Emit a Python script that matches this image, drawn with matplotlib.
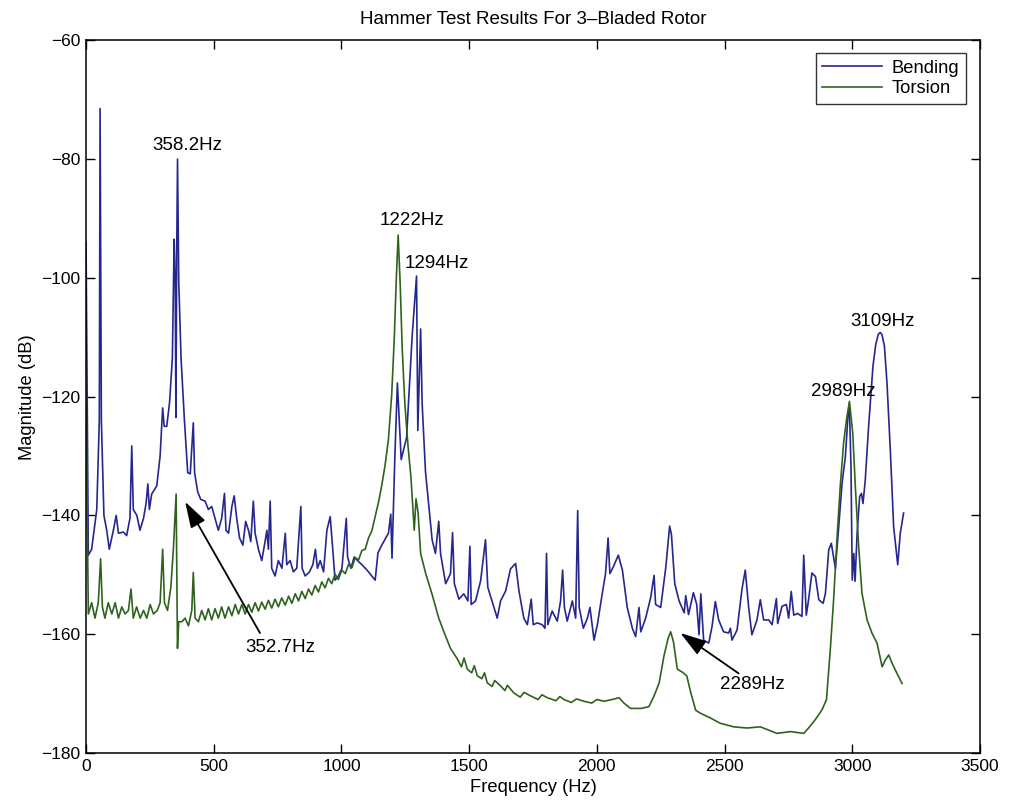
import matplotlib
matplotlib.use("Agg")
import matplotlib.pyplot as plt

plt.rcParams["font.family"] = ["Liberation Sans", "DejaVu Sans"]

# Bending spectrum (frequency in Hz, magnitude in dB)
bend_hz = [0, 9, 22, 42, 52, 55, 60, 70, 81, 91, 107, 118, 127, 146, 159, 172, 179, 185, 199, 211,
           225, 235, 242, 248, 257, 266, 277, 290, 300, 306, 316, 327, 338, 345, 349, 352, 355, 358.2,
           363, 372, 385, 398, 408, 420, 425, 437, 449, 466, 479, 492, 505, 518, 531, 542, 548, 558,
           571, 580, 590, 601, 614, 625, 636, 645, 655, 662, 675, 688, 701, 708, 714, 721, 727, 740,
           753, 767, 780, 786, 799, 812, 825, 841, 846, 858, 875, 888, 898, 906, 917, 930, 943, 956,
           966, 975, 988, 1002, 1019, 1024, 1037, 1050, 1063, 1080, 1100, 1119, 1132, 1143, 1158,
           1171, 1184, 1193, 1198, 1209, 1219, 1234, 1255, 1277, 1294, 1299, 1310, 1316, 1329, 1342,
           1355, 1368, 1381, 1388, 1408, 1427, 1435, 1442, 1460, 1479, 1495, 1503, 1508, 1525, 1545,
           1564, 1573, 1597, 1610, 1623, 1643, 1662, 1682, 1695, 1714, 1728, 1743, 1751, 1767, 1786,
           1797, 1803, 1808, 1825, 1845, 1858, 1866, 1873, 1884, 1904, 1917, 1925, 1931, 1947, 1963,
           1973, 1989, 2002, 2021, 2034, 2044, 2051, 2064, 2084, 2100, 2119, 2139, 2152, 2165, 2172,
           2191, 2211, 2224, 2230, 2250, 2270, 2285, 2292, 2305, 2322, 2342, 2348, 2359, 2378, 2391,
           2400, 2407, 2418, 2438, 2451, 2464, 2477, 2496, 2516, 2523, 2529, 2549, 2568, 2581, 2594,
           2607, 2627, 2640, 2653, 2673, 2686, 2703, 2708, 2725, 2742, 2751, 2761, 2771, 2786, 2803,
           2810, 2820, 2829, 2842, 2856, 2869, 2886, 2895, 2908, 2918, 2934, 2947, 2960, 2973, 2983,
           2989, 2995, 3000, 3006, 3011, 3019, 3029, 3036, 3042, 3051, 3064, 3081, 3092, 3102, 3109,
           3116, 3126, 3136, 3149, 3162, 3178, 3188, 3201]
bend_db = [-94, -146.7, -145.7, -139, -124, -71.5, -124, -140, -142.5, -145.7, -142.5, -140, -143,
           -142.8, -143.4, -140.5, -128.3, -139, -140, -142.5, -140.5, -138, -134.7, -139, -136.4,
           -135.8, -135, -130, -121.9, -125, -125, -121, -113.5, -93.5, -100.6, -123.5, -96, -80,
           -100.6, -113.5, -123.8, -132.8, -133, -124.4, -132.8, -136, -137.3, -137.6, -139, -138.5,
           -140.5, -142.5, -140.5, -136.3, -142.5, -143, -138.5, -136.7, -140.5, -143.8, -145, -141,
           -142.5, -144.4, -137.6, -143, -145.7, -147.6, -144.4, -142.5, -145.7, -137.6, -148.9,
           -150.2, -147.6, -148.9, -143, -148.3, -147.6, -149.5, -148.9, -138.5, -148.9, -150.2,
           -149.5, -148.3, -145.7, -148.9, -147.6, -149.5, -142.5, -140.2, -145.7, -150.9, -150.2,
           -148.9, -140.5, -147, -148.9, -147, -147.6, -148.3, -149.2, -150.2, -150.9, -146.3, -145,
           -144, -143, -139.8, -147.2, -130.3, -117.7, -130.6, -126.9, -109.7, -99.7, -125.7, -108.6,
           -121.2, -132.6, -138.4, -144.1, -146.4, -141, -146.4, -151.5, -149.8, -142.9, -151.5,
           -154.1, -153.2, -154.4, -145.2, -155, -154.4, -151, -144.1, -152.1, -155.5, -157.3,
           -154.4, -152.7, -149, -148.1, -152.7, -157.3, -158.4, -154.1, -158.4, -158.1, -158.4,
           -159, -146.4, -158.4, -156.1, -157.8, -154.4, -149.2, -155.5, -157.8, -154.4, -157.3,
           -139.2, -155.5, -159, -157.3, -155.5, -161, -158.4, -153.2, -149.8, -143.8, -149.8,
           -148.7, -146.7, -149.2, -155.5, -159, -160.4, -155.5, -159.6, -157.3, -153.8, -150.1,
           -155, -155.5, -148.7, -141.8, -143.2, -151.5, -154.4, -156.4, -153.5, -156.7, -153, -155,
           -160.1, -153.2, -161, -161.5, -158.7, -154.5, -157.6, -159.6, -159.8, -159, -161, -159.3,
           -152.5, -149.2, -155.3, -160.1, -157.6, -154.2, -157.6, -157.6, -158.4, -154, -158.2,
           -155.3, -155, -157.3, -152.8, -156.8, -156.5, -157, -146.7, -156.8, -154.2, -149.7,
           -150.3, -154.2, -154.8, -153.1, -145.8, -144.7, -148.9, -141.9, -134.6, -130.1, -123.4,
           -122, -131.8, -150.9, -146.4, -151.1, -143, -136.8, -136.3, -138, -134, -125, -114.9,
           -111.2, -109.5, -109.2, -109.5, -111.5, -117.7, -129, -141.9, -148.3, -143, -139.6]

# Torsion spectrum
tors_hz = [0, 9, 22, 35, 48, 57, 64, 74, 87, 101, 114, 127, 140, 153, 166, 176, 185, 198, 212, 225,
           238, 251, 264, 279, 290, 300, 307, 319, 332, 342, 352.7, 358, 363, 375, 388, 401, 414, 420,
           427, 440, 453, 466, 479, 492, 505, 518, 531, 544, 558, 571, 584, 597, 610, 623, 636, 649,
           662, 675, 688, 701, 714, 727, 740, 753, 766, 780, 793, 806, 819, 832, 845, 858, 871, 884,
           897, 910, 923, 936, 949, 962, 975, 988, 1001, 1015, 1028, 1041, 1054, 1067, 1080, 1093,
           1106, 1119, 1132, 1145, 1158, 1171, 1184, 1197, 1207, 1215, 1222, 1230, 1238, 1248, 1260,
           1272, 1285, 1292, 1300, 1310, 1330, 1355, 1381, 1401, 1427, 1453, 1470, 1480, 1493, 1510,
           1520, 1532, 1550, 1560, 1571, 1590, 1600, 1623, 1640, 1650, 1675, 1700, 1715, 1741, 1770,
           1785, 1806, 1840, 1855, 1871, 1900, 1920, 1950, 1980, 2000, 2028, 2060, 2087, 2106, 2132,
           2172, 2204, 2224, 2244, 2263, 2279, 2289, 2300, 2315, 2335, 2352, 2368, 2387, 2405, 2444,
           2483, 2536, 2588, 2640, 2705, 2758, 2810, 2829, 2855, 2882, 2899, 2914, 2927, 2940, 2953,
           2966, 2979, 2989, 3002, 3012, 3025, 3038, 3058, 3077, 3097, 3117, 3130, 3143, 3156, 3175,
           3195]
tors_db = [-121.5, -156.6, -154.7, -157.3, -154.7, -147.3, -155.4, -157.3, -154.7, -156.6, -154.7,
           -157.3, -155.4, -156.6, -156, -152.4, -157.3, -155.4, -157.3, -156, -157.3, -155, -156.6,
           -156, -154.7, -145.7, -154.7, -156, -152.1, -145.7, -136.4, -162.4, -157.9, -157.9,
           -157.3, -158.6, -156, -149.6, -157.3, -157.9, -156, -157.6, -155.7, -157.6, -155.7,
           -157.3, -155.4, -157.3, -155.4, -156.9, -155, -156.6, -155, -156.6, -155, -156.3, -154.7,
           -156.1, -154.6, -155.8, -154.3, -155.6, -154.1, -155.4, -153.9, -155.1, -153.6, -154.8,
           -153.2, -154.4, -152.8, -154, -152.4, -153.4, -151.8, -152.9, -151.2, -152.2, -150.6,
           -151.5, -149.9, -150.8, -149.2, -149.8, -148.2, -148.8, -147.1, -147.5, -145.9, -145.7,
           -143.8, -142.6, -140.2, -137.8, -134.9, -131.5, -127.2, -119.5, -110, -100, -92.8, -101,
           -112, -121, -128, -133.5, -142.5, -137.2, -139.5, -146.4, -149.8, -153.3, -157.3, -159.6,
           -162.4, -164.1, -165.5, -164, -165.9, -166.5, -165.3, -167, -167.5, -166.5, -168.2,
           -168.8, -167.8, -168.7, -169.5, -168.6, -169.9, -170.6, -169.8, -170.4, -171, -170.2,
           -170.7, -171.2, -170.5, -171, -171.5, -170.9, -171.3, -171.6, -171, -171.3, -171, -170.7,
           -171.6, -172.5, -172.5, -172.2, -170.4, -168.2, -163.6, -160.7, -159.6, -161.3, -165.9,
           -166.4, -167, -169.9, -172.8, -173.3, -174.1, -175, -175.6, -175.8, -175.6, -176.7,
           -176.4, -176.7, -175.8, -174.4, -172.7, -171, -162.6, -154.2, -144.1, -135.1, -127.8,
           -123.4, -120.8, -126.2, -135.1, -145.2, -153.1, -157.6, -159.8, -161.5, -165.5, -164.3,
           -163.5, -164.9, -166.6, -168.3]

# peak labels: text, x, y
peak_labels = [("358.2Hz", 395, -77.7), ("1222Hz", 1277, -90.4), ("1294Hz", 1375, -97.6),
               ("3109Hz", 3117, -107.4), ("2989Hz", 2963, -119.2)]
# arrowed labels: text, text (x, y), arrow tail (x, y), arrow tip (x, y)
arrow_labels = [("352.7Hz", (761, -162.2), (681, -159.8), (388, -137.7)),
                ("2289Hz", (2607, -168.4), (2555, -166.6), (2327, -159.8))]

fig = plt.figure(figsize=(10.11, 8.06), dpi=100)
ax = fig.add_axes([0.0851, 0.0658, 0.8842, 0.8842])

ax.plot(bend_hz, bend_db, color="#26278e", lw=1.2, label="Bending")
ax.plot(tors_hz, tors_db, color="#2f631d", lw=1.2, label="Torsion")

ax.set_xlim(0, 3500)
ax.set_ylim(-180, -60)
ax.set_xticks(range(0, 3501, 500))
ax.set_yticks(range(-180, -59, 20))
ax.tick_params(direction="in", top=True, right=True, labelsize=12.5, length=6.5, width=1, pad=4)
for s in ax.spines.values():
    s.set_linewidth(1.1)

ax.set_title("Hammer Test Results For 3\u2013Bladed Rotor", fontsize=13.5, pad=12)
ax.set_xlabel("Frequency (Hz)", fontsize=13.2, labelpad=4)
ax.set_ylabel("Magnitude (dB)", fontsize=13.2, labelpad=4)

for txt, x, y in peak_labels:
    ax.text(x, y, txt, ha="center", va="center", fontsize=13.5)

for txt, pos, tail, tip in arrow_labels:
    ax.text(pos[0], pos[1], txt, ha="center", va="center", fontsize=13.5)
    ax.annotate("", xy=tip, xytext=tail,
                arrowprops=dict(arrowstyle="-|>,head_length=0.8,head_width=0.25",
                                color="black", lw=1.3, mutation_scale=20,
                                shrinkA=0, shrinkB=0))

leg = ax.legend(loc="upper right", fontsize=13.2, handlelength=3.3, handletextpad=0.5,
                frameon=True, fancybox=False, edgecolor="black", borderpad=0.35,
                labelspacing=0.2, borderaxespad=0, bbox_to_anchor=(0.984, 0.982))
leg.get_frame().set_linewidth(1.0)

fig.savefig("out.png", dpi=100)
